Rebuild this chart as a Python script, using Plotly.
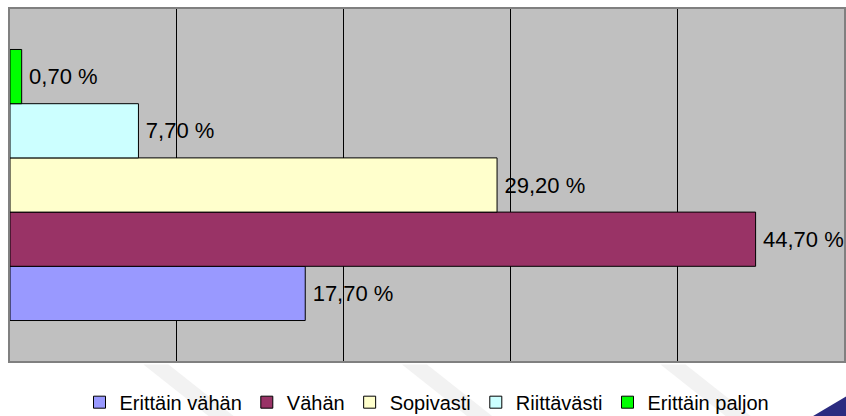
import plotly.graph_objects as go

categories = ["Erittäin vähän", "Vähän", "Sopivasti", "Riittävästi", "Erittäin paljon"]
values = [17.7, 44.7, 29.2, 7.7, 0.7]
colors = ["#9999FF", "#993366", "#FFFFCC", "#CCFFFF", "#00FF00"]

fig = go.Figure()
for name, v, c in zip(categories, values, colors):
    fig.add_trace(go.Bar(
        x=[v], y=[""], name=name, orientation="h",
        marker=dict(color=c, line=dict(color="black", width=1)),
        texttemplate="\u2009%{x:.2f}\u00a0%", textposition="outside",
        constraintext="none", cliponaxis=False,
        textfont=dict(family="Liberation Sans, Arial", size=22, color="black"),
        hoverinfo="skip",
    ))

# decorative background swooshes
shapes = [
    dict(type="path", xref="paper", yref="paper",
         path="M 0.963 -0.156 L 1.01 -0.09 L 1.01 -0.16 Z",
         fillcolor="#2B2B80", line=dict(width=0), layer="below"),
]
for x0 in [0.16, 0.47, 0.78]:
    shapes.append(dict(type="path", xref="paper", yref="paper",
                       path=f"M {x0} -0.01 L {x0+0.03} -0.01 L {x0+0.11} -0.16 L {x0+0.08} -0.16 Z",
                       fillcolor="#F2F2F2", line=dict(width=0), layer="below"))

fig.update_layout(
    width=846, height=416,
    margin=dict(l=10, r=2, t=9, b=55, autoexpand=False),
    paper_bgcolor="white", plot_bgcolor="#C0C0C0",
    barmode="group", bargap=0.23, bargroupgap=0,
    separators=", ",
    font=dict(family="Liberation Sans, Arial", size=20, color="black"),
    showlegend=True,
    legend=dict(orientation="h", x=0.5, xanchor="center", y=-0.117, yanchor="middle",
                traceorder="normal", font=dict(size=20), itemwidth=30,
                bgcolor="rgba(0,0,0,0)"),
    xaxis=dict(range=[0, 50], dtick=10, showgrid=True, gridcolor="black", gridwidth=1,
               showticklabels=False, ticks="", zeroline=False, automargin=False,
               showline=True, linecolor="#808080", linewidth=2, mirror=True, fixedrange=True),
    yaxis=dict(showticklabels=False, ticks="", showgrid=False, zeroline=False, automargin=False,
               showline=True, linecolor="#808080", linewidth=2, mirror=True, fixedrange=True),
    shapes=shapes,
)

fig.write_html("out.html", config={"displayModeBar": False},
               post_script="document.body.style.margin='0';document.documentElement.style.overflow='hidden';")
